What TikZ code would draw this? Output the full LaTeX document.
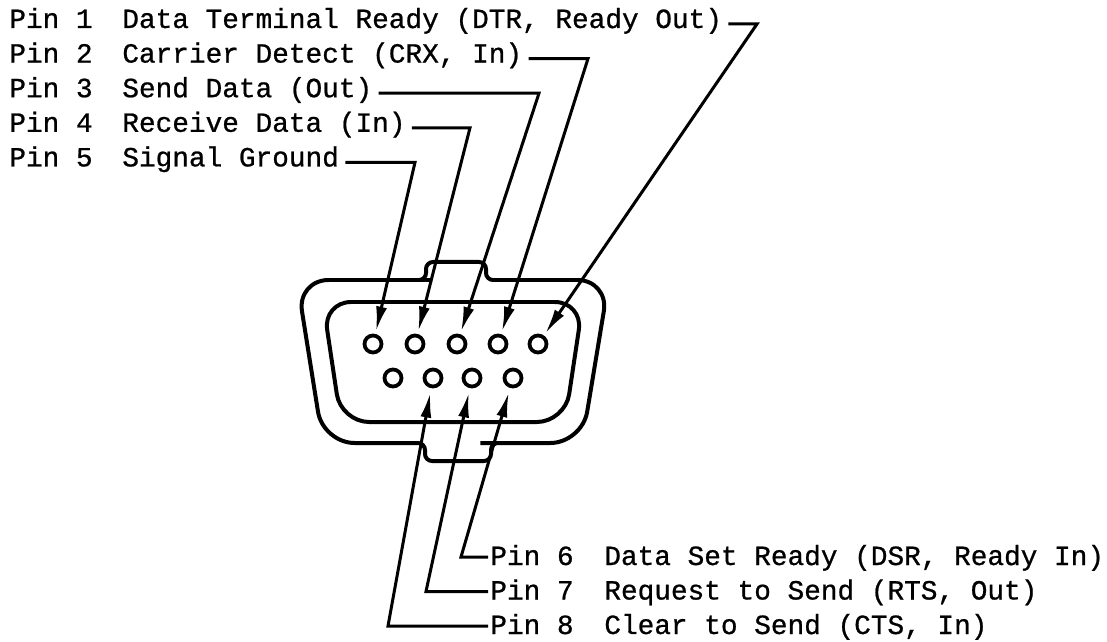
\documentclass[tikz,border=0pt]{standalone}
\usepackage{fontspec}
\newfontfamily\typer{Liberation Mono}[FakeBold=0.8]
\usetikzlibrary{arrows.meta}

\begin{document}
\begin{tikzpicture}[x=0.02cm,y=-0.02cm,
	shell/.style={line width=0.08cm},
	contact/.style={circle,draw,line width=0.075cm,minimum size=0.34cm,inner sep=0pt},
	lead/.style={line width=0.06cm},
	arr/.style={-{Latex[length=0.5cm,width=0.22cm]}},
	txt/.style={anchor=base west,inner sep=0pt,font=\typer\fontsize{15.8pt}{15.8pt}\selectfont}]
		\useasboundingbox (0,0) rectangle (1107,642);
		
		%Корпус разъёма
		\draw[shell] (400,443) [rounded corners=18] -- (323,443) -- (297,280) -- (400,280) [rounded corners=4] -- (426,280) -- (426,262) -- (486,262) -- (486,280) -- (510,280) [rounded corners=18] -- (609,280) -- (582,443) -- (512,443) [rounded corners=4] -- (491,443) -- (491,461) -- (425,461) -- (425,443) -- cycle;
		\draw[shell,rounded corners=16] (453,302) -- (583,302) -- (565,422) -- (341,422) -- (323,302) -- cycle;
		
		%Контакты
		\node[contact] (s5) at (373,344) {};
		\node[contact] (s4) at (415,344) {};
		\node[contact] (s3) at (457,344) {};
		\node[contact] (s2) at (498,344) {};
		\node[contact] (s1) at (538,344) {};
		\node[contact] (s9) at (393,378) {};
		\node[contact] (s8) at (433,378) {};
		\node[contact] (s7) at (472,378) {};
		\node[contact] (s6) at (513,378) {};
		
		%Подписи сверху
		\node[txt] (n1) at (9,28) {Pin 1};
		\node[txt] (t1) at (122,28) {Data Terminal Ready (DTR, Ready Out)};
		\node[txt] (n2) at (9,62.6) {Pin 2};
		\node[txt] (t2) at (122,62.6) {Carrier Detect (CRX, In)};
		\node[txt] (n3) at (9,97.2) {Pin 3};
		\node[txt] (t3) at (122,97.2) {Send Data (Out)};
		\node[txt] (n4) at (9,131.8) {Pin 4};
		\node[txt] (t4) at (122,131.8) {Receive Data (In)};
		\node[txt] (n5) at (9,166.4) {Pin 5};
		\node[txt] (t5) at (122,166.4) {Signal Ground};
		
		%Подписи снизу
		\node[txt] (n6) at (490,565) {Pin 6};
		\node[txt] (t6) at (604,565) {Data Set Ready (DSR, Ready In)};
		\node[txt] (n7) at (490,599.5) {Pin 7};
		\node[txt] (t7) at (604,599.5) {Request to Send (RTS, Out)};
		\node[txt] (n8) at (490,634) {Pin 8};
		\node[txt] (t8) at (604,634) {Clear to Send (CTS, In)};
		
		%Изломы выносок
		\coordinate (k1) at (757,24);
		\coordinate (k2) at (588,58.6);
		\coordinate (k3) at (539,93.2);
		\coordinate (k4) at (470,127.8);
		\coordinate (k5) at (415,162.4);
		\coordinate (h6) at (461,557);
		\coordinate (h7) at (426,591.5);
		\coordinate (h8) at (388,626);
		
		%Выноски сверху
		\draw[lead,arr,shorten >=0.05cm] ([shift={(6,-4)}]t1.base east) -- (k1) -- (s1);
		\draw[lead,arr,shorten >=0.05cm] ([shift={(6,-4)}]t2.base east) -- (k2) -- (s2);
		\draw[lead,arr,shorten >=0.05cm] ([shift={(6,-4)}]t3.base east) -- (k3) -- (s3);
		\draw[lead,arr,shorten >=0.05cm] ([shift={(6,-4)}]t4.base east) -- (k4) -- (s4);
		\draw[lead,arr,shorten >=0.05cm] ([shift={(6,-4)}]t5.base east) -- (k5) -- (s5);
		
		%Выноски снизу
		\draw[lead,arr,shorten >=0.09cm] ([shift={(-2,-8)}]n6.base west) -- (h6) -- (s6);
		\draw[lead,arr,shorten >=0.09cm] ([shift={(-2,-8)}]n7.base west) -- (h7) -- (s7);
		\draw[lead,arr,shorten >=0.09cm] ([shift={(-2,-8)}]n8.base west) -- (h8) -- (s8);
\end{tikzpicture}
\end{document}
